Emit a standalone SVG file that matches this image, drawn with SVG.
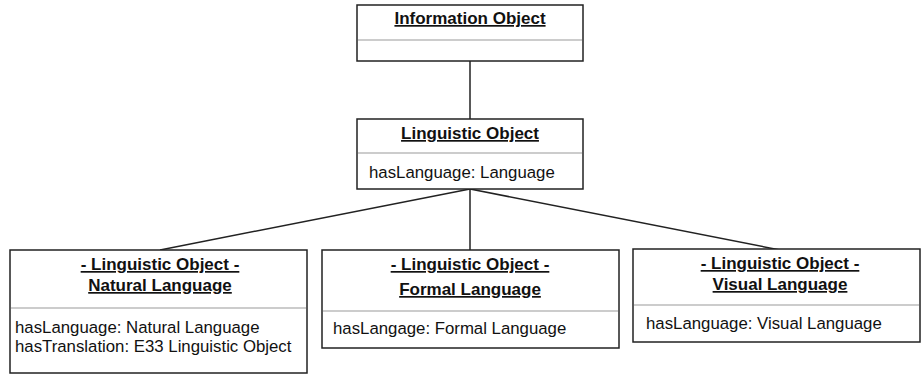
<svg xmlns="http://www.w3.org/2000/svg" width="922" height="375" viewBox="0 0 922 375">
<style>
.box{fill:#fff;stroke:#222;stroke-width:1.5}
.div{stroke:#999;stroke-width:1.2}
.t{font-family:"Liberation Sans",Arial,sans-serif;font-size:17px;font-weight:bold;fill:#111;text-anchor:middle;text-decoration:underline}
.a{font-family:"Liberation Sans",Arial,sans-serif;font-size:16.8px;fill:#111}
.c{stroke:#222;stroke-width:1.5;fill:none}
</style>
<rect width="922" height="375" fill="#fff"/>
<g id="connectors">
<line class="c" x1="470" y1="61" x2="470" y2="119"/>
<line class="c" x1="470" y1="189" x2="160" y2="250"/>
<line class="c" x1="470" y1="189" x2="470" y2="250"/>
<line class="c" x1="470" y1="189" x2="780" y2="250"/>
</g>
<g id="information-object">
<rect class="box" x="357" y="5" width="226" height="56"/>
<line class="div" x1="358" y1="40" x2="582" y2="40"/>
<text class="t" x="470" y="24">Information Object</text>
</g>
<g id="linguistic-object">
<rect class="box" x="357" y="119" width="226" height="70"/>
<line class="div" x1="358" y1="153" x2="582" y2="153"/>
<text class="t" x="470" y="139">Linguistic Object</text>
<text class="a" x="369" y="178">hasLanguage: Language</text>
</g>
<g id="natural-language">
<rect class="box" x="10" y="250" width="297" height="123"/>
<line class="div" x1="11" y1="308" x2="306" y2="308"/>
<text class="t" x="160" y="270">- Linguistic Object -</text>
<text class="t" x="160" y="291">Natural Language</text>
<text class="a" x="15" y="333">hasLanguage: Natural Language</text>
<text class="a" x="15" y="352">hasTranslation: E33 Linguistic Object</text>
</g>
<g id="formal-language">
<rect class="box" x="322" y="250" width="297" height="98"/>
<line class="div" x1="323" y1="311" x2="618" y2="311"/>
<text class="t" x="470" y="270">- Linguistic Object -</text>
<text class="t" x="470" y="295">Formal Language</text>
<text class="a" x="333" y="334">hasLangage: Formal Language</text>
</g>
<g id="visual-language">
<rect class="box" x="633" y="249" width="287" height="93"/>
<line class="div" x1="634" y1="305" x2="919" y2="305"/>
<text class="t" x="780" y="269">- Linguistic Object -</text>
<text class="t" x="780" y="290">Visual Language</text>
<text class="a" x="646" y="329">hasLanguage: Visual Language</text>
</g>
</svg>
